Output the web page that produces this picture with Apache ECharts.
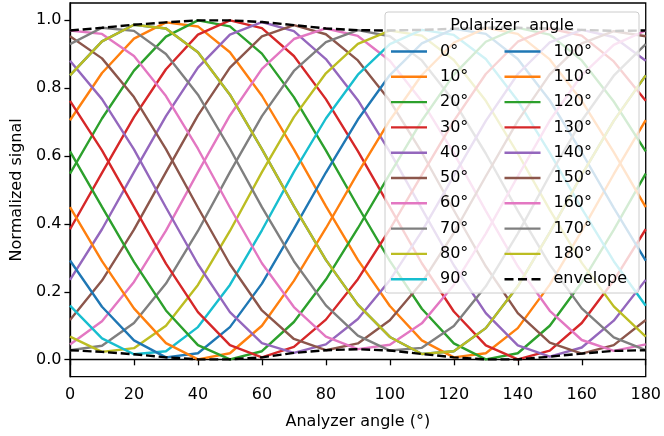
<!DOCTYPE html>
<html>
<head>
<meta charset="utf-8">
<script src="https://cdn.jsdelivr.net/npm/echarts@6/dist/echarts.min.js"></script>
<style>
  html, body { margin: 0; padding: 0; background: #fff; }
  #chart { width: 664px; height: 436px; }
</style>
</head>
<body>
<div id="chart"></div>
<script>
// analyzer angle samples (deg)
const analyzerAngles = [0, 10, 20, 30, 40, 50, 60, 70, 80, 90, 100, 110, 120, 130, 140, 150, 160, 170, 180];

// normalized signal per polarizer angle
const pol0   = [0.837, 0.937, 0.986, 0.975, 0.905, 0.780, 0.620, 0.452, 0.294, 0.162, 0.067, 0.017, 0.025, 0.093, 0.216, 0.375, 0.544, 0.703, 0.837];
const pol10  = [0.705, 0.844, 0.945, 0.993, 0.981, 0.905, 0.777, 0.619, 0.452, 0.294, 0.158, 0.057, 0.007, 0.019, 0.093, 0.221, 0.379, 0.546, 0.705];
const pol20  = [0.548, 0.710, 0.851, 0.951, 0.999, 0.981, 0.901, 0.773, 0.616, 0.451, 0.291, 0.150, 0.048, 0.001, 0.019, 0.100, 0.228, 0.382, 0.548];
const pol30  = [0.384, 0.550, 0.714, 0.855, 0.957, 0.999, 0.976, 0.894, 0.767, 0.614, 0.449, 0.284, 0.142, 0.042, 0.001, 0.027, 0.108, 0.233, 0.384];
const pol40  = [0.235, 0.384, 0.552, 0.717, 0.860, 0.957, 0.994, 0.967, 0.885, 0.764, 0.612, 0.444, 0.278, 0.137, 0.042, 0.009, 0.036, 0.115, 0.235];
const pol50  = [0.117, 0.233, 0.383, 0.552, 0.719, 0.860, 0.952, 0.985, 0.958, 0.881, 0.762, 0.610, 0.440, 0.275, 0.137, 0.050, 0.018, 0.043, 0.117];
const pol60  = [0.045, 0.113, 0.229, 0.380, 0.552, 0.719, 0.856, 0.944, 0.975, 0.953, 0.880, 0.761, 0.608, 0.438, 0.275, 0.144, 0.058, 0.026, 0.045];
const pol70  = [0.028, 0.041, 0.108, 0.224, 0.379, 0.552, 0.717, 0.850, 0.935, 0.970, 0.952, 0.881, 0.761, 0.607, 0.438, 0.280, 0.151, 0.066, 0.028];
const pol80  = [0.068, 0.023, 0.034, 0.100, 0.220, 0.379, 0.552, 0.714, 0.843, 0.930, 0.969, 0.954, 0.882, 0.762, 0.607, 0.441, 0.285, 0.157, 0.068];
const pol90  = [0.159, 0.063, 0.016, 0.025, 0.096, 0.220, 0.381, 0.553, 0.710, 0.839, 0.929, 0.971, 0.956, 0.885, 0.762, 0.609, 0.445, 0.290, 0.159];
const pol100 = [0.292, 0.156, 0.057, 0.007, 0.019, 0.096, 0.224, 0.385, 0.551, 0.707, 0.838, 0.931, 0.974, 0.959, 0.885, 0.763, 0.610, 0.447, 0.292];
const pol110 = [0.449, 0.290, 0.151, 0.049, 0.001, 0.019, 0.100, 0.232, 0.387, 0.550, 0.705, 0.838, 0.933, 0.977, 0.959, 0.884, 0.762, 0.611, 0.449];
const pol120 = [0.613, 0.450, 0.288, 0.145, 0.043, 0.001, 0.025, 0.111, 0.236, 0.387, 0.547, 0.704, 0.839, 0.936, 0.977, 0.957, 0.881, 0.760, 0.613];
const pol130 = [0.762, 0.616, 0.450, 0.283, 0.140, 0.043, 0.007, 0.038, 0.118, 0.237, 0.384, 0.544, 0.703, 0.841, 0.936, 0.975, 0.954, 0.878, 0.762];
const pol140 = [0.880, 0.767, 0.619, 0.448, 0.281, 0.140, 0.049, 0.020, 0.045, 0.120, 0.234, 0.378, 0.541, 0.703, 0.841, 0.934, 0.971, 0.950, 0.880];
const pol150 = [0.952, 0.887, 0.773, 0.620, 0.448, 0.281, 0.145, 0.061, 0.028, 0.048, 0.116, 0.227, 0.373, 0.540, 0.703, 0.840, 0.931, 0.967, 0.952];
const pol160 = [0.969, 0.959, 0.894, 0.776, 0.621, 0.448, 0.284, 0.155, 0.068, 0.031, 0.044, 0.107, 0.220, 0.371, 0.540, 0.704, 0.838, 0.927, 0.969];
const pol170 = [0.929, 0.977, 0.968, 0.900, 0.780, 0.621, 0.449, 0.290, 0.160, 0.071, 0.027, 0.035, 0.099, 0.216, 0.371, 0.543, 0.704, 0.836, 0.929];
const pol180 = [0.837, 0.937, 0.986, 0.975, 0.905, 0.780, 0.620, 0.452, 0.294, 0.162, 0.067, 0.017, 0.025, 0.093, 0.216, 0.375, 0.544, 0.703, 0.837];

const envelopeUpper = [0.969, 0.977, 0.986, 0.993, 0.999, 0.999, 0.994, 0.985, 0.975, 0.970, 0.969, 0.971, 0.974, 0.977, 0.977, 0.975, 0.971, 0.968, 0.969];
const envelopeLower = [0.028, 0.023, 0.016, 0.007, 0.001, 0.001, 0.007, 0.020, 0.028, 0.031, 0.027, 0.017, 0.007, 0.001, 0.001, 0.009, 0.018, 0.026, 0.028];

const polarizerLabels = ['0°', '10°', '20°', '30°', '40°', '50°', '60°', '70°', '80°', '90°',
  '100°', '110°', '120°', '130°', '140°', '150°', '160°', '170°', '180°'];
const polarizerSeries = [pol0, pol10, pol20, pol30, pol40, pol50, pol60, pol70, pol80, pol90,
  pol100, pol110, pol120, pol130, pol140, pol150, pol160, pol170, pol180];

const yTicks = [0, 0.2, 0.4, 0.6, 0.8, 1.0];

const TAB10 = ['#1f77b4', '#ff7f0e', '#2ca02c', '#d62728', '#9467bd',
  '#8c564b', '#e377c2', '#7f7f7f', '#bcbd22', '#17becf'];
const FONT = 'DejaVu Sans';
const FS = 16;
const LW = 2.4;

// legend handles: a solid bar and three dashes
const SOLID_ICON = 'path://M0,0h36v2.4h-36z';
const DASH_ICON = 'path://M0,0h9v2.4h-9z M13.5,0h9v2.4h-9z M27,0h9v2.4h-9z';

const pairs = (ys) => analyzerAngles.map((x, i) => [x, ys[i]]);

const series = polarizerSeries.map((ys, i) => ({
  name: polarizerLabels[i],
  type: 'line',
  data: pairs(ys),
  symbol: 'none',
  clip: false,
  silent: true,
  lineStyle: { width: LW, color: TAB10[i % 10] },
  itemStyle: { color: TAB10[i % 10] },
}));

// envelope: upper and lower share one legend entry
;[envelopeUpper, envelopeLower].forEach((ys) => {
  series.push({
    name: 'envelope',
    type: 'line',
    data: pairs(ys),
    symbol: 'none',
    clip: false,
    silent: true,
    z: 3,
    lineStyle: { width: LW, color: '#000', type: [8.9, 3.8] },
    itemStyle: { color: '#000' },
  })
})

const legendBase = {
  orient: 'vertical',
  top: 43.5,
  padding: 0,
  itemWidth: 36,
  itemHeight: 2.4,
  itemGap: 9.3,
  z: 20,
  selectedMode: false,
  textStyle: { fontFamily: FONT, fontSize: FS, color: '#000', lineHeight: 16, padding: [0, 0, 0, 8] },
}

const legendItems = (names) => names.map((n) => ({
  name: n,
  icon: n === 'envelope' ? DASH_ICON : SOLID_ICON,
  itemStyle: { borderWidth: 0 },
}))

const option = {
  animation: false,
  grid: { left: 70, right: 15, top: 3, bottom: 59.3, show: true, borderColor: '#000', borderWidth: 1.3 },
  xAxis: {
    type: 'value',
    min: 0,
    max: 180,
    interval: 20,
    name: 'Analyzer angle (°)',
    nameLocation: 'middle',
    nameGap: 37,
    nameTextStyle: { fontFamily: FONT, fontSize: FS, color: '#000' },
    axisLine: { lineStyle: { color: '#000', width: 1.3 } },
    axisTick: { length: 5.6, lineStyle: { color: '#000', width: 1.3 } },
    axisLabel: { fontFamily: FONT, fontSize: FS, color: '#000', margin: 10 },
    splitLine: { show: false },
  },
  yAxis: {
    type: 'value',
    min: -0.05,
    max: 1.05,
    name: 'Normalized signal',
    nameLocation: 'middle',
    nameGap: 39,
    nameTextStyle: { fontFamily: FONT, fontSize: FS, color: '#000' },
    axisLine: { show: true, lineStyle: { color: '#000', width: 1.3 } },
    axisTick: { show: true, length: 5.6, customValues: yTicks, lineStyle: { color: '#000', width: 1.3 } },
    axisLabel: { fontFamily: FONT, fontSize: FS, color: '#000', margin: 8.5, customValues: yTicks,
      formatter: (v) => v.toFixed(1) },
    splitLine: { show: false },
  },
  legend: [
    Object.assign({}, legendBase, { left: 391, data: legendItems(polarizerLabels.slice(0, 10)) }),
    Object.assign({}, legendBase, { left: 504.5, data: legendItems(polarizerLabels.slice(10).concat(['envelope'])) }),
  ],
  graphic: [
    {
      type: 'rect',
      z: 10,
      shape: { x: 385, y: 12, width: 254, height: 281, r: 3 },
      style: { fill: 'rgba(255,255,255,0.8)', stroke: '#cccccc', lineWidth: 1 },
    },
    {
      type: 'text',
      z: 20,
      x: 512,
      y: 26,
      style: { text: 'Polarizer  angle', fontFamily: FONT, fontSize: FS, fill: '#000',
        align: 'center', verticalAlign: 'middle' },
    },
  ],
  series: series,
};

const chart = echarts.init(document.getElementById('chart'), null, { renderer: 'canvas' });
chart.setOption(option);
</script>
</body>
</html>
